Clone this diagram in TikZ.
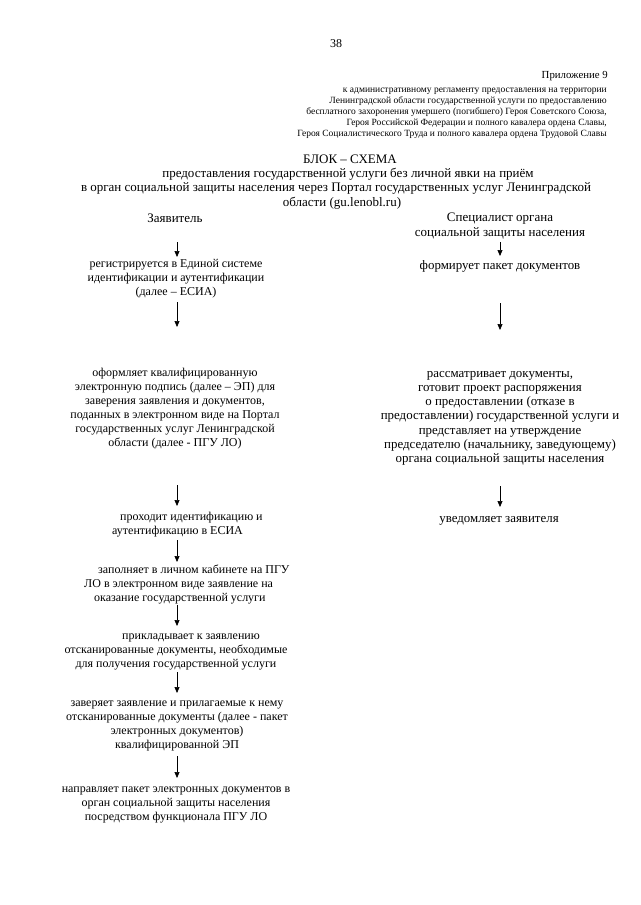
\documentclass[tikz,border=0pt]{standalone}
\usepackage{fontspec}
\setmainfont{Liberation Serif}
\usetikzlibrary{arrows.meta}
\newcommand\bodyfont{\fontsize{12}{13.9}\selectfont}
\newcommand\rightfont{\fontsize{12.9}{14.2}\selectfont}
\newcommand\titlefont{\fontsize{13}{14.3}\selectfont}
\newcommand\hdrfont{\fontsize{9.5}{11}\selectfont}
\newcommand\appfont{\fontsize{10.8}{12}\selectfont}
\begin{document}
\begin{tikzpicture}[x=1pt,y=-1pt,
  txt/.style={inner sep=0pt, anchor=north, align=center, font=\bodyfont, execute at begin node=\strut},
  txtr/.style={txt, font=\rightfont},
  ttl/.style={txt, font=\titlefont},
  txtl/.style={txt, anchor=north west, align=left},
  hdr/.style={inner sep=0pt, anchor=north east, align=right, font=\hdrfont, execute at begin node=\strut},
  flow/.style={line width=0.7pt, -{Triangle[length=6pt,width=5pt]}}]
\useasboundingbox (0,0) rectangle (640,905);
\fill[white] (0,0) rectangle (640,905);

\node[txt] (pg) at (336,38) {38};
\node[hdr, font=\appfont] (app) at (608,70) {Приложение  9};
\node[hdr] (appt) at (607,88) {к  административному регламенту предоставления на территории\\
Ленинградской области  государственной услуги по предоставлению\\
бесплатного захоронения умершего (погибшего) Героя Советского Союза,\\
Героя Российской Федерации и полного кавалера ордена Славы,\\
Героя Социалистического Труда и полного кавалера ордена Трудовой Славы};

\node[ttl] (t1) at (350,153) {БЛОК – СХЕМА};
\node[ttl] (t2) at (348,167.3) {предоставления государственной услуги  без личной явки на приём};
\node[ttl] (t3) at (336,181.6) {в орган социальной защиты населения через Портал государственных услуг Ленинградской};
\node[ttl] (t4) at (342,195.9) {области (gu.lenobl.ru)};

\node[ttl] (colL) at (175,212) {Заявитель};
\node[ttl] (colR) at (500,213) {Специалист органа\\ социальной защиты населения};

% left column
\node[txt] (l1) at (176,259) {регистрируется в Единой системе\\ идентификации и аутентификации\\ (далее – ЕСИА)};
\node[txt] (l2) at (175,368) {оформляет  квалифицированную\\ электронную подпись (далее – ЭП) для\\ заверения заявления и документов,\\ поданных в электронном виде на Портал\\ государственных услуг Ленинградской\\ области (далее - ПГУ ЛО)};
\node[txtl] (l3) at (112,512) {\hspace*{8pt}проходит идентификацию и\\ аутентификацию в ЕСИА};
\node[txtl] (l4) at (84,565) {\hspace*{14pt}заполняет в личном кабинете на ПГУ\\ ЛО в электронном виде заявление на\\ \hspace*{10pt}оказание государственной услуги};
\node[txt] (l5) at (176,634) {\hspace*{30pt}прикладывает  к заявлению\\ отсканированные документы, необходимые\\ для получения государственной услуги};
\node[txt] (l6) at (177,701) {заверяет заявление и прилагаемые к нему\\ отсканированные документы (далее - пакет\\ электронных документов)\\ квалифицированной ЭП};
\node[txt] (l7) at (176,787) {направляет пакет электронных документов в\\ орган социальной защиты населения\\ посредством функционала ПГУ ЛО};

% right column
\node[txtr] (r1) at (500,259) {формирует пакет документов};
\node[txtr] (r2) at (500,371) {рассматривает документы,\\ готовит проект распоряжения\\ о предоставлении (отказе в\\ предоставлении) государственной услуги и\\ представляет на утверждение\\ председателю (начальнику, заведующему)\\ органа социальной защиты населения};
\node[txtr] (r3) at (499,512) {уведомляет заявителя};

% arrow end points
\coordinate (a1s) at (177,242); \coordinate (a1e) at (177,257);
\coordinate (a2s) at (177,302); \coordinate (a2e) at (177,327);
\coordinate (a3s) at (177,485); \coordinate (a3e) at (177,506);
\coordinate (a4s) at (177,540); \coordinate (a4e) at (177,562);
\coordinate (a5s) at (177,605); \coordinate (a5e) at (177,626);
\coordinate (a6s) at (177,672); \coordinate (a6e) at (177,693);
\coordinate (a7s) at (177,756); \coordinate (a7e) at (177,778);
\coordinate (b1s) at (500,242); \coordinate (b1e) at (500,256);
\coordinate (b2s) at (500,303); \coordinate (b2e) at (500,330);
\coordinate (b3s) at (500,486); \coordinate (b3e) at (500,507);

\foreach \a in {a1,a2,a3,a4,a5,a6,a7,b1,b2,b3}
  \draw[flow] (\a s) -- (\a e);
\end{tikzpicture}
\end{document}
